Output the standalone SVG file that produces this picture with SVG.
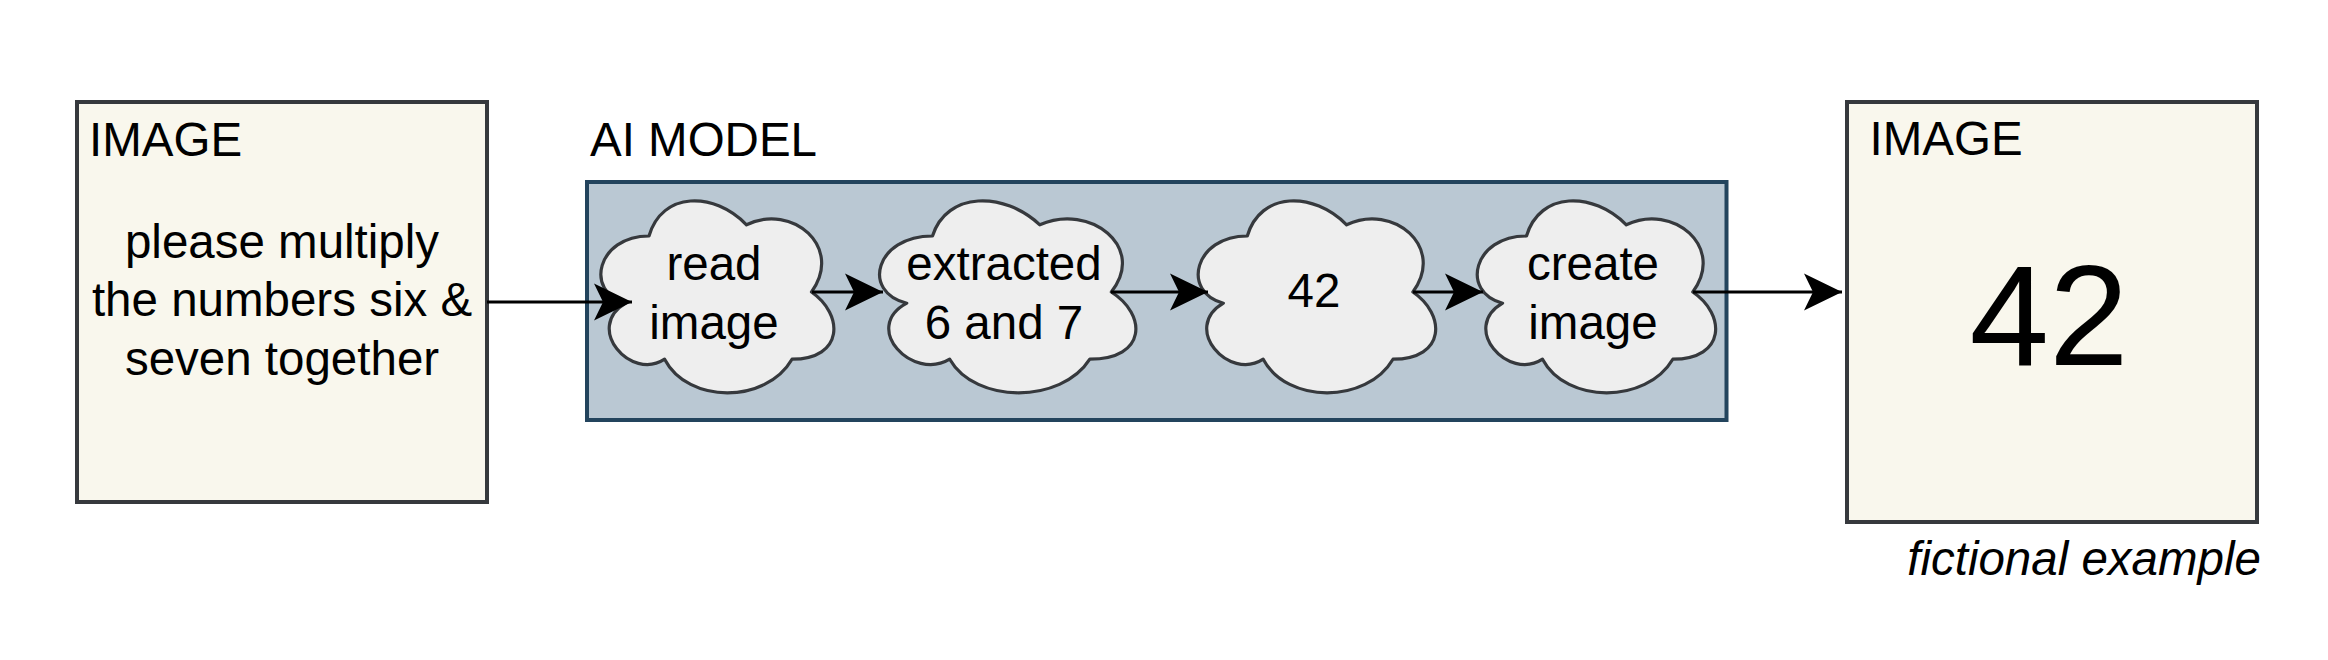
<svg xmlns="http://www.w3.org/2000/svg" width="2328" height="660" viewBox="0 0 2328 660">
<style>
.t{font-family:"Liberation Sans",Arial,Helvetica,sans-serif;font-size:47.5px;fill:#000}
.c{text-anchor:middle}
.img{fill:#f9f7ed;stroke:#36393d;stroke-width:4}
.cloud{fill:#eeeeee;stroke:#36393d;stroke-width:3.2;stroke-linejoin:round}
.edge{fill:none;stroke:#000;stroke-width:3.2}
</style>
<defs>
<marker id="arr" viewBox="0 0 40 40" refX="40" refY="20" markerWidth="40" markerHeight="40" markerUnits="userSpaceOnUse" orient="auto">
<path d="M40,20 L2,1.5 L11,20 L2,38.5 Z" fill="#000"/>
</marker>
</defs>
<rect width="2328" height="660" fill="#ffffff"/>
<g id="input-image">
<rect class="img" x="77" y="102" width="410" height="400"/>
<text class="t" x="89" y="156">IMAGE</text>
<text class="t c" x="282" y="257.5">please multiply</text>
<text class="t c" x="282" y="316">the numbers six &amp;</text>
<text class="t c" x="282" y="374.5">seven together</text>
</g>
<g id="ai-model">
<rect x="587" y="182" width="1139.5" height="238" fill="#bac8d3" stroke="#23445d" stroke-width="4"/>
<text class="t" x="590" y="156">AI MODEL</text>
</g>
<g id="read-image">
<path class="cloud" d="M649,236 C597,236 584,292 625.6,303.2 C584,327.84 630.8,381.6 664.6,359.2 C688,404 766,404 792,359.2 C844,359.2 844,314.4 811.5,292 C844,247.2 792,202.4 746.5,224.8 C714,191.2 662,191.2 649,236 Z"/>
<text class="t c" x="714" y="280">read</text>
<text class="t c" x="714" y="339">image</text>
</g>
<g id="extracted">
<path class="cloud" d="M932.5,236 C875.3,236 861,292 906.8,303.2 C861,327.8 912.5,381.6 949.7,359.2 C975.4,404 1061.2,404 1089.8,359.2 C1147,359.2 1147,314.4 1111.3,292 C1147,247.2 1089.8,202.4 1039.8,224.8 C1004,191.2 946.8,191.2 932.5,236 Z"/>
<text class="t c" x="1004" y="279.5">extracted</text>
<text class="t c" x="1004" y="338.5">6 and 7</text>
</g>
<g id="result-42">
<path class="cloud" d="M1247.3,236 C1194.3,236 1181,292 1223.4,303.2 C1181,327.8 1228.7,381.6 1263.2,359.2 C1287,404 1366.5,404 1393,359.2 C1446,359.2 1446,314.4 1412.9,292 C1446,247.2 1393,202.4 1346.6,224.8 C1313.5,191.2 1260.5,191.2 1247.3,236 Z"/>
<text class="t c" x="1314" y="307">42</text>
</g>
<g id="create-image">
<path class="cloud" d="M1526.5,236 C1473.3,236 1460,292 1502.6,303.2 C1460,327.8 1507.9,381.6 1542.5,359.2 C1566.4,404 1646.2,404 1672.8,359.2 C1726,359.2 1726,314.4 1692.8,292 C1726,247.2 1672.8,202.4 1626.3,224.8 C1593,191.2 1539.8,191.2 1526.5,236 Z"/>
<text class="t c" x="1593" y="279.5">create</text>
<text class="t c" x="1593" y="338.5">image</text>
</g>
<g id="output-image">
<rect class="img" x="1847" y="102" width="410" height="420"/>
<text class="t" x="1869.5" y="155">IMAGE</text>
<text class="t c" x="2049" y="365" style="font-size:143px">42</text>
<text class="t" x="2261" y="575" style="font-style:italic;text-anchor:end">fictional example</text>
</g>
<g id="connectors">
<path class="edge" d="M487,302 L632,302" marker-end="url(#arr)"/>
<path class="edge" d="M812,292 L883,292" marker-end="url(#arr)"/>
<path class="edge" d="M1111,292 L1208,292" marker-end="url(#arr)"/>
<path class="edge" d="M1413,292 L1483,292" marker-end="url(#arr)"/>
<path class="edge" d="M1693,292 L1842,292" marker-end="url(#arr)"/>
</g>
</svg>
